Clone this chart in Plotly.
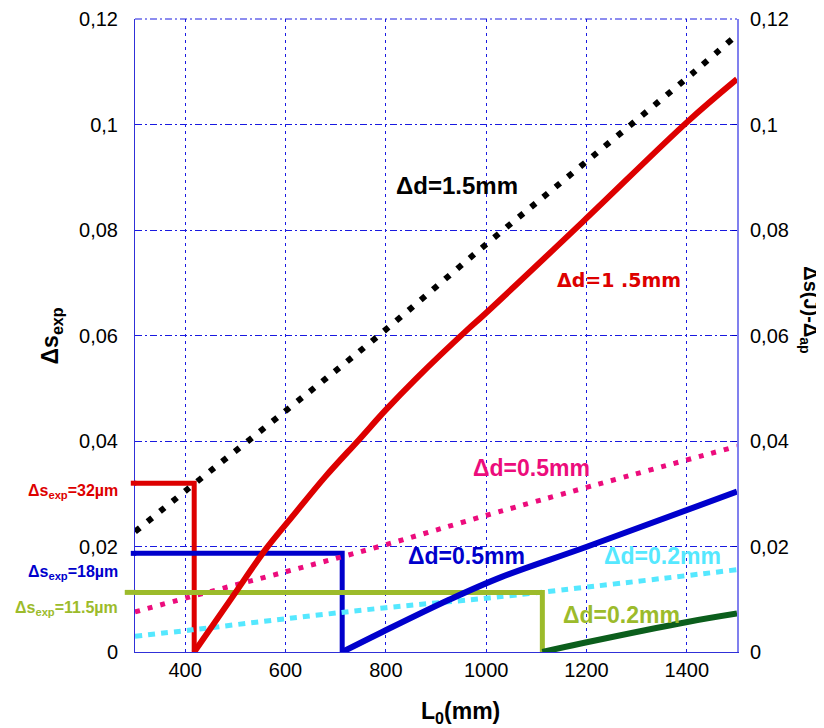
import plotly.graph_objects as go

# ---- data ----
# Δs_exp curves (dotted)
L_black = [300, 404, 604, 777, 1000, 1200, 1415, 1500]
s_black = [0.0228, 0.0308, 0.0460, 0.0593, 0.0773, 0.0930, 0.1100, 0.1170]
L_pink = [300, 408, 600, 787, 1026, 1500]
s_pink = [0.0076, 0.0104, 0.0152, 0.0200, 0.0266, 0.0390]
L_cyan = [300, 414, 600, 800, 1020, 1500]
s_cyan = [0.0030, 0.0042, 0.0063, 0.0084, 0.0104, 0.0156]

# Δs(J)-Δap curves (solid)
L_red = [418, 494, 560, 613, 679, 747, 799, 859, 966, 992, 1192, 1401, 1500]
s_red = [0.0, 0.0104, 0.0194, 0.0256, 0.0332, 0.0403, 0.0458, 0.0517, 0.0614, 0.0636, 0.0815, 0.1005, 0.1086]
L_blue = [713, 793, 926, 1030, 1202, 1500]
s_blue = [0.0, 0.0038, 0.0099, 0.0142, 0.0200, 0.0304]
L_green = [1112, 1203, 1401, 1500]
s_green = [0.0, 0.0019, 0.0057, 0.0073]

# threshold steps (Δs_exp level -> L0 -> 0)
L_step_red = [300, 418, 418]
s_step_red = [0.032, 0.032, 0.0]
L_step_blue = [300, 713, 713]
s_step_blue = [0.0187, 0.0187, 0.0]
L_step_yg = [300, 1112, 1112]
s_step_yg = [0.0113, 0.0113, 0.0]

y_ticks = [0, 0.02, 0.04, 0.06, 0.08, 0.1, 0.12]
y_ticktext = ["0", "0,02", "0,04", "0,06", "0,08", "0,1", "0,12"]
x_ticks = [400, 600, 800, 1000, 1200, 1400]

RED = "#dd0000"
BLUE = "#0000cc"
PINK = "#ec0c7c"
CYAN = "#55e8ff"
DGREEN = "#0b5e1c"
YGREEN = "#9cbb2b"
GRID = "#1a1ae0"
FONT = "Liberation Sans, Arial, sans-serif"

fig = go.Figure()

def line(x, y, color, width, dash="solid", axis="y", shape="linear"):
    fig.add_trace(go.Scatter(x=x, y=y, mode="lines", yaxis=axis,
                             line=dict(color=color, width=width, dash=dash, shape=shape),
                             showlegend=False, hoverinfo="skip"))

line(L_step_red, s_step_red, RED, 5)
line(L_step_blue, s_step_blue, BLUE, 5)
line(L_black, s_black, "#000000", 6, "6px,10px", shape="spline")
line(L_red, s_red, RED, 6, axis="y2", shape="spline")
line(L_blue, s_blue, BLUE, 6, axis="y2", shape="spline")
line(L_pink, s_pink, PINK, 5, "5px,8px", shape="spline")
line(L_cyan, s_cyan, CYAN, 5, "7px,6px", shape="spline")
line(L_step_yg, s_step_yg, YGREEN, 5)
line(L_green, s_green, DGREEN, 6, axis="y2", shape="spline")

# stubs of the threshold lines reaching into the left margin
for yv, col, w in [(s_step_red[0], RED, 0.007), (s_step_blue[0], BLUE, 0.007), (s_step_yg[0], YGREEN, 0.017)]:
    fig.add_shape(type="line", xref="paper", yref="y", x0=-w, x1=0.002, y0=yv, y1=yv,
                  line=dict(color=col, width=5), layer="above")
# dotted top border
fig.add_shape(type="line", xref="paper", yref="paper", x0=0, x1=1, y0=1, y1=1,
              line=dict(color=GRID, width=1, dash="7px,3px,2px,3px"), layer="below")

ann = []
def lab(x, y, text, color, size=20, font=FONT):
    ann.append(dict(x=x, y=y, xref="x", yref="y", text="<b>" + text + "</b>", showarrow=False,
                    xanchor="center", yanchor="middle",
                    font=dict(color=color, size=size, family=font)))

lab(942, 0.0885, "Δd=1.5mm", "#000000", 24)
lab(1265, 0.0705, "Δd=1 .5mm", RED, 19, "DejaVu Sans, sans-serif")
lab(1090, 0.0348, "Δd=0.5mm", PINK, 23)
lab(960, 0.0182, "Δd=0.5mm", BLUE, 23)
lab(1351, 0.0182, "Δd=0.2mm", CYAN, 23)
lab(1269, 0.0070, "Δd=0.2mm", YGREEN, 23)

def side(yv, text, color):
    ann.append(dict(x=-0.025, y=yv, xref="paper", yref="y", xanchor="right", yanchor="middle",
                    text="<b>" + text + "</b>", showarrow=False,
                    font=dict(color=color, size=16, family=FONT)))

side(0.0305, "Δs<sub>exp</sub>=32µm", RED)
side(0.0150, "Δs<sub>exp</sub>=18µm", BLUE)
side(0.0083, "Δs<sub>exp</sub>=11.5µm", YGREEN)

ann.append(dict(x=-0.138, y=0.5, xref="paper", yref="paper", textangle=-90,
                xanchor="center", yanchor="middle",
                text="<b>Δs<sub>exp</sub></b>", showarrow=False,
                font=dict(color="#000000", size=23, family=FONT)))
ann.append(dict(x=1.121, y=0.54, xref="paper", yref="paper", textangle=90,
                xanchor="center", yanchor="middle",
                text="<b>Δs(J)-Δ<sub>ap</sub></b>", showarrow=False,
                font=dict(color="#000000", size=20, family=FONT)))
ann.append(dict(x=0.541, y=-0.095, xref="paper", yref="paper",
                xanchor="center", yanchor="middle",
                text="<b>L<sub>0</sub>(mm)</b>", showarrow=False,
                font=dict(color="#000000", size=23, family=FONT)))

fig.update_layout(
    width=816, height=720,
    margin=dict(l=127, r=87, t=11, b=76, autoexpand=False),
    plot_bgcolor="white", paper_bgcolor="white",
    font=dict(family=FONT, size=20, color="#000000"),
    annotations=ann,
    xaxis=dict(range=[300, 1500], tickvals=x_ticks, showgrid=True, gridcolor=GRID, gridwidth=1,
               griddash="3px,4px", showline=True, linecolor="#3030d8", linewidth=1,
               ticks="inside", ticklen=3, tickcolor=GRID, zeroline=False, automargin=False,
               tickfont=dict(size=20), ticklabelstandoff=0),
    yaxis=dict(range=[0, 0.12], tickvals=y_ticks, ticktext=y_ticktext, showgrid=True,
               gridcolor=GRID, gridwidth=1, griddash="7px,3px,2px,3px", automargin=False,
               showline=True, linecolor="#3030d8", linewidth=1, zeroline=False,
               tickfont=dict(size=20), ticklabelstandoff=12),
    yaxis2=dict(range=[0, 0.12], overlaying="y", side="right", tickvals=y_ticks, ticktext=y_ticktext,
                showgrid=False, showline=True, linecolor="#8080ee", linewidth=2, zeroline=False,
                ticks="inside", ticklen=5, tickcolor=BLUE, automargin=False,
                tickfont=dict(size=20), ticklabelstandoff=7),
)

fig.write_html("out.html")
